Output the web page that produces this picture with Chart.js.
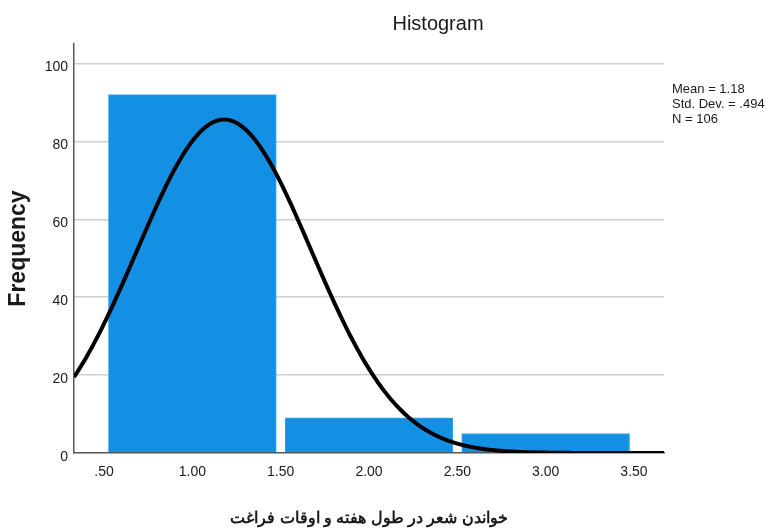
<!DOCTYPE html>
<html>
<head>
<meta charset="utf-8">
<script src="https://cdn.jsdelivr.net/npm/chart.js@4/dist/chart.umd.min.js"></script>
<style>
  html, body { margin: 0; padding: 0; background: #ffffff; }
  #wrap { width: 771px; height: 531px; position: relative; }
</style>
</head>
<body>
<div id="wrap"><canvas id="hist"></canvas></div>
<script>
// Histogram bins (centre of each bin) and their counts
const binCenters = [1, 2, 3];
const binCounts = [92, 9, 5];
const binWidth = 1;

// Summary statistics shown beside the plot
const meanValue = 1.18;
const stdDev = 0.494;
const sampleSize = 106;
const statLines = ['Mean = 1.18', 'Std. Dev. = .494', 'N = 106'];

// Axis ticks
const xTickValues = [0.5, 1.0, 1.5, 2.0, 2.5, 3.0, 3.5];
const xTickLabels = ['.50', '1.00', '1.50', '2.00', '2.50', '3.00', '3.50'];
const yTickValues = [0, 20, 40, 60, 80, 100];

// Axis extent
const xMin = 0.33, xMax = 3.67;
const yMin = 0, yMax = 105;

// Texts
const chartTitle = 'Histogram';
const xTitle = 'خواندن شعر در طول هفته و اوقات فراغت';
const yTitle = 'Frequency';

// Fitted normal curve scaled to counts: N * width * pdf(x)
const curvePoints = [];
for (let i = 0; i <= 334; i++) {
  const x = xMin + i * 0.01;
  const z = (x - meanValue) / stdDev;
  const y = sampleSize * binWidth * Math.exp(-0.5 * z * z) / (stdDev * Math.sqrt(2 * Math.PI));
  curvePoints.push({ x: x, y: y });
}

const barPoints = binCenters.map((c, i) => ({ x: c, y: binCounts[i] }));

const FONT = '"Liberation Sans", Arial, sans-serif';
const TEXT = '#1a1a1a';

// Title and statistics text
const textPlugin = {
  id: 'histText',
  afterDraw(chart) {
    const c = chart.ctx;
    c.save();
    c.fillStyle = TEXT;
    c.textBaseline = 'middle';
    c.textAlign = 'center';
    c.font = '20px ' + FONT;
    c.fillText(chartTitle, 438, 24);
    c.textAlign = 'left';
    c.font = '13px ' + FONT;
    statLines.forEach((s, i) => c.fillText(s, 672, 89 + i * 15));
    c.restore();
  }
};

new Chart(document.getElementById('hist'), {
  data: {
    datasets: [
      {
        type: 'line',
        data: curvePoints,
        borderColor: '#000000',
        borderWidth: 4,
        pointRadius: 0,
        tension: 0,
        fill: false,
        order: 0
      },
      {
        type: 'bar',
        data: barPoints,
        backgroundColor: '#1390E3',
        borderColor: '#3FA3EA',
        borderWidth: { top: 1, left: 1, right: 1, bottom: 0 },
        borderSkipped: 'bottom',
        barThickness: (ctx) => {
          const sx = ctx.chart.scales.x;
          if (!sx) return 100;
          return sx.getPixelForValue(binWidth * 0.95) - sx.getPixelForValue(0);
        },
        order: 1
      }
    ]
  },
  options: {
    responsive: true,
    maintainAspectRatio: false,
    animation: false,
    devicePixelRatio: 1,
    layout: { padding: { top: 44, right: 107, bottom: 0, left: 0 } },
    plugins: {
      legend: { display: false },
      tooltip: { enabled: false },
      title: { display: false }
    },
    scales: {
      x: {
        type: 'linear',
        min: xMin,
        max: xMax,
        offset: false,
        afterBuildTicks: (scale) => { scale.ticks = xTickValues.map(v => ({ value: v })); },
        afterFit: (scale) => { scale.height = 78; },
        grid: { display: false, drawTicks: false, offset: false },
        border: { display: true, color: '#555555', width: 1.5 },
        ticks: {
          autoSkip: false,
          maxRotation: 0,
          padding: 11,
          color: TEXT,
          font: { family: FONT, size: 14 },
          callback: (v) => {
            const idx = xTickValues.findIndex(t => Math.abs(t - v) < 1e-6);
            return idx >= 0 ? xTickLabels[idx] : '';
          }
        },
        title: {
          display: true,
          text: xTitle,
          color: TEXT,
          font: { family: FONT, size: 15.5, weight: 'bold' },
          padding: { top: 0, bottom: 3 }
        }
      },
      y: {
        type: 'linear',
        min: yMin,
        max: yMax,
        afterBuildTicks: (scale) => { scale.ticks = yTickValues.map(v => ({ value: v })); },
        afterFit: (scale) => { scale.width = 74; },
        grid: {
          drawTicks: false,
          color: (ctx) => (ctx.tick && ctx.tick.value === 0 ? 'rgba(0,0,0,0)' : '#cfcfcf'),
          lineWidth: 1.5
        },
        border: { display: true, color: '#555555', width: 1.5 },
        ticks: {
          padding: 6,
          labelOffset: 4,
          color: TEXT,
          font: { family: FONT, size: 14 }
        },
        title: {
          display: true,
          text: yTitle,
          color: TEXT,
          font: { family: FONT, size: 23, weight: 'bold' },
          padding: { top: 5, bottom: 0 }
        }
      }
    }
  },
  plugins: [textPlugin]
});
</script>
</body>
</html>
